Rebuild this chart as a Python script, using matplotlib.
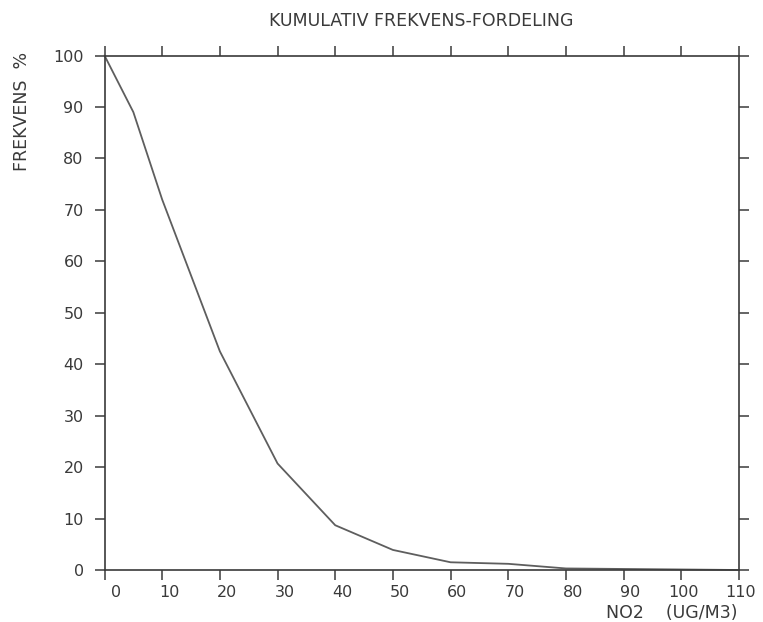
import matplotlib
matplotlib.use("Agg")
import matplotlib.pyplot as plt
import matplotlib.transforms as mtransforms

# Cumulative frequency distribution of NO2 concentrations
no2_levels = [0, 5, 10, 20, 30, 40, 50, 60, 70, 80, 90, 100, 110]
cum_freq = [100, 89, 72, 42.5, 20.7, 8.7, 3.9, 1.5, 1.2, 0.3, 0.2, 0.1, 0.0]

x_ticks = [0, 10, 20, 30, 40, 50, 60, 70, 80, 90, 100, 110]
x_tick_labels = ["0", "10", "20", "30", "40", "50", "60", "70", "80", "90", "100", "110"]
y_ticks = [0, 10, 20, 30, 40, 50, 60, 70, 80, 90, 100]
y_tick_labels = ["0", "10", "20", "30", "40", "50", "60", "70", "80", "90", "100"]

title_text = "KUMULATIV FREKVENS-FORDELING"
y_label_text = "FREKVENS  %"
x_label_text = "NO2    (UG/M3)"

ink = "#3a3a3a"
plt.rcParams["font.family"] = ["DejaVu Sans"]
plt.rcParams["font.size"] = 11.5

W, H = 763, 622
fig = plt.figure(figsize=(W / 100, H / 100), dpi=100)
fig.patch.set_facecolor("white")

left_px, right_px, top_px, bottom_px = 104.5, 739.0, 55.5, 570.0
ax = fig.add_axes([left_px / W, 1 - bottom_px / H,
                   (right_px - left_px) / W, (bottom_px - top_px) / H])

ax.plot(no2_levels, cum_freq, color="#5e5e5e", linewidth=1.3,
        solid_joinstyle="round", clip_on=False)

ax.set_xlim(0, 110)
ax.set_ylim(0, 100)

for side in ["left", "right", "top", "bottom"]:
    ax.spines[side].set_color(ink)
    ax.spines[side].set_linewidth(1.2)

ax.set_xticks(x_ticks)
ax.set_xticklabels(x_tick_labels)
ax.set_yticks(y_ticks)
ax.set_yticklabels(y_tick_labels)

ax.tick_params(axis="both", which="both", direction="out", length=7,
               width=1.1, color=ink, labelcolor=ink)
ax.tick_params(axis="x", top=True, labeltop=False, pad=4)
ax.tick_params(axis="y", right=True, labelright=False, pad=8)

# x tick labels sit right-aligned just past their tick
shift = mtransforms.ScaledTranslation(17 / 100, 0, fig.dpi_scale_trans)
for lbl in ax.get_xticklabels():
    lbl.set_horizontalalignment("right")
    lbl.set_transform(lbl.get_transform() + shift)

fig.text((left_px + right_px) / 2 / W, 1 - 21.5 / H, title_text,
         ha="center", va="center", color=ink, fontsize=12.5)

fig.text(22 / W, 1 - 52 / H, y_label_text, rotation=90,
         ha="center", va="top", color=ink, fontsize=12.5)

fig.text(737 / W, 1 - 613 / H, x_label_text,
         ha="right", va="center", color=ink, fontsize=12.5)

fig.savefig("out.png", dpi=100, facecolor="white")
